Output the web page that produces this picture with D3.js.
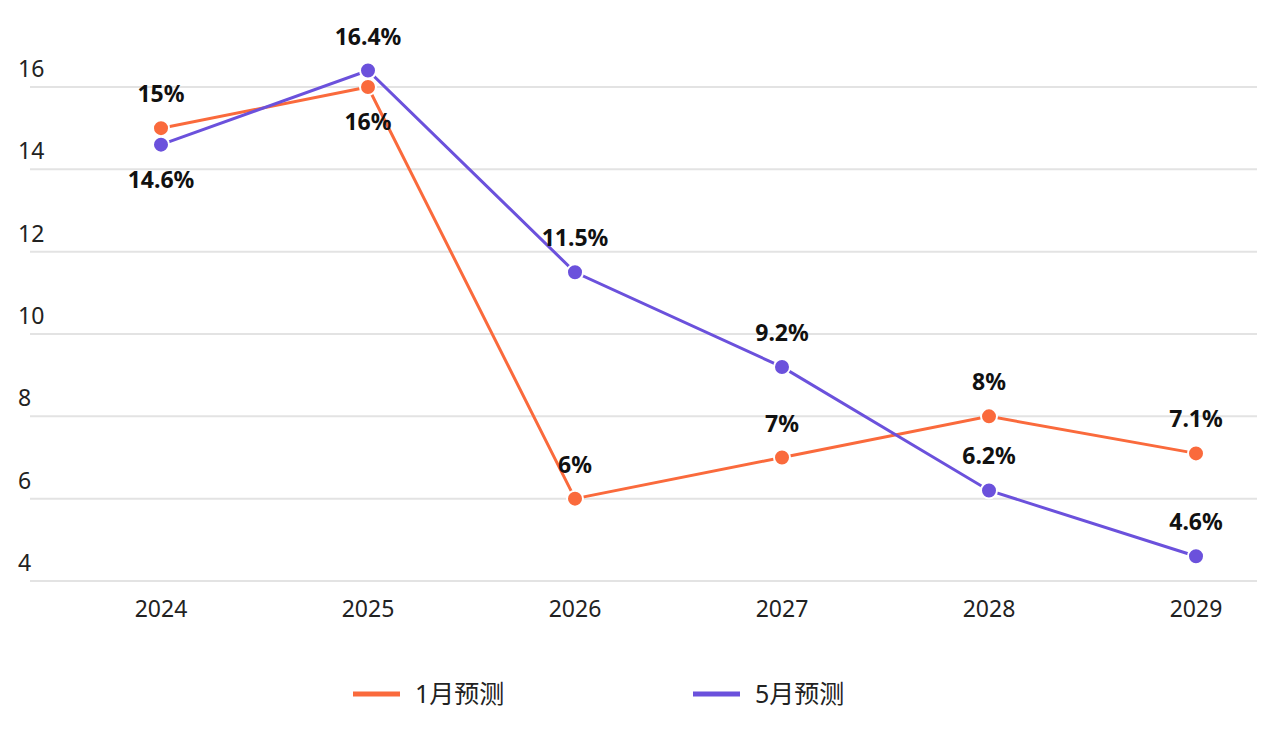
<!DOCTYPE html>
<html><head><meta charset="utf-8">
<script src="https://cdn.jsdelivr.net/npm/d3@7"></script>
<style>body{margin:0;background:#fff;font-family:"Fira Sans","Noto Sans","Noto Sans CJK SC",sans-serif}</style>
</head><body><svg id="c" width="1271" height="732"></svg>
<script>
const years = ["2024","2025","2026","2027","2028","2029"];
const janForecast = [15,16,6,7,8,7.1];
const mayForecast = [14.6,16.4,11.5,9.2,6.2,4.6];
const yTicks = [4,6,8,10,12,14,16];
const seriesNames = ["1月预测","5月预测"];
const colors = ["#fa6a3c","#6b51dc"];
const janBelow = [false,true,false,false,false,false];
const mayBelow = [true,false,false,false,false,false];

const svg = d3.select("#c");
const x = d3.scalePoint().domain(years).range([161,1196]);
const y = d3.scaleLinear().domain([4,16]).range([581,87]);
const font = '"Noto Sans","Noto Sans CJK SC",sans-serif';

svg.append("g").selectAll("line").data(yTicks).join("line")
  .attr("x1",30).attr("x2",1257).attr("y1",d=>y(d)).attr("y2",d=>y(d))
  .attr("stroke","#e3e3e3").attr("stroke-width",2);
svg.append("g").selectAll("text").data(yTicks).join("text")
  .attr("x",18).attr("y",d=>y(d)-10).text(d=>d)
  .attr("font-size",23).attr("fill","#222").attr("font-family",font);
svg.append("g").selectAll("text").data(years).join("text")
  .attr("x",d=>x(d)).attr("y",617).attr("text-anchor","middle").text(d=>d)
  .attr("font-size",23).attr("fill","#222").attr("font-family",font);

const line = d3.line().x((d,i)=>x(years[i])).y(d=>y(d));
[[janForecast,janBelow],[mayForecast,mayBelow]].forEach(([vals,below],k)=>{
  svg.append("path").attr("d",line(vals)).attr("fill","none")
    .attr("stroke",colors[k]).attr("stroke-width",3);
});
[[janForecast,janBelow],[mayForecast,mayBelow]].forEach(([vals,below],k)=>{
  svg.append("g").selectAll("circle").data(vals).join("circle")
    .attr("cx",(d,i)=>x(years[i])).attr("cy",d=>y(d)).attr("r",8)
    .attr("fill",colors[k]).attr("stroke","#fff").attr("stroke-width",2);
  svg.append("g").selectAll("text").data(vals).join("text")
    .attr("x",(d,i)=>x(years[i])).attr("y",(d,i)=>below[i]?y(d)+43:y(d)-26)
    .attr("text-anchor","middle").text(d=>d+"%")
    .attr("font-size",23).attr("font-weight","bold").attr("fill","#111").attr("font-family",font);
});
const lg = svg.append("g").selectAll("g").data(seriesNames).join("g")
  .attr("transform",(d,i)=>`translate(${353+i*340},694)`);
lg.append("line").attr("x1",0).attr("x2",47).attr("stroke",(d,i)=>colors[i]).attr("stroke-width",5);
lg.append("text").attr("x",62).attr("y",9).text(d=>d)
  .attr("font-size",25).attr("fill","#222").attr("font-family",font);
</script></body></html>
